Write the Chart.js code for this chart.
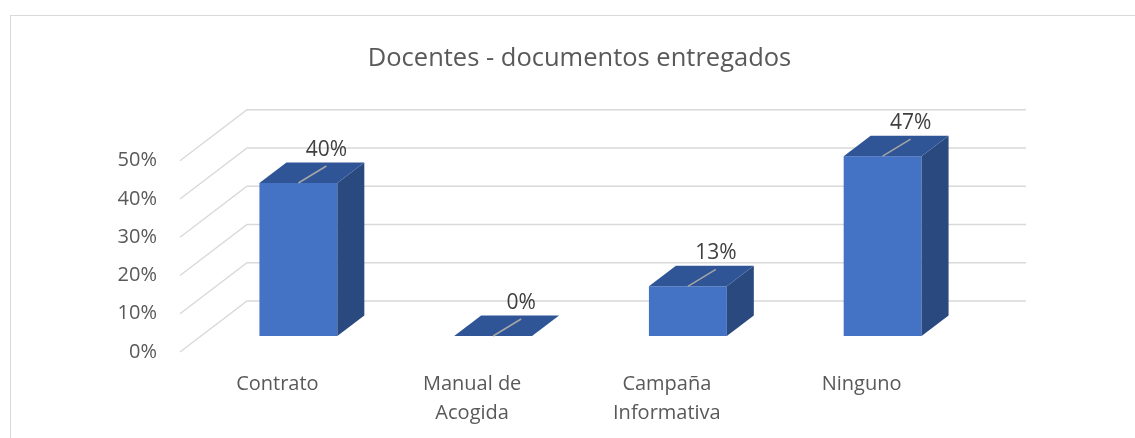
<!DOCTYPE html>
<html>
<head>
<meta charset="utf-8">
<script src="https://cdn.jsdelivr.net/npm/chart.js@4/dist/chart.umd.min.js"></script>
<style>
  html, body { margin: 0; padding: 0; background: #fff; }
</style>
</head>
<body>
<canvas id="chart" width="1135" height="438"></canvas>
<script>
var categorias = [["Contrato"], ["Manual de", "Acogida"], ["Campaña", "Informativa"], ["Ninguno"]];
var porcentajes = [40, 0, 13, 47];
var ticksY = [0, 10, 20, 30, 40, 50];

// 3d look (excel style): wall depth, bar offset from front plane, bar depth
var wall = {dx: 67, dy: -51};
var barFront = {dx: 21, dy: -16};
var barDepth = {dx: 27, dy: -20.5};

var caja3d = {
    id: 'caja3d',
    beforeDraw: function(chart) {
        var ctx = chart.ctx;
        var area = chart.chartArea;
        var y = chart.scales.y;
        ctx.save();
        ctx.strokeStyle = '#D9D9D9';
        ctx.lineWidth = 1;
        ctx.strokeRect(10.5, 15.5, 1300, 600);

        ctx.lineWidth = 1.4;
        ticksY.forEach(function(v) {
            var py = y.getPixelForValue(v);
            ctx.beginPath();
            ctx.moveTo(area.left, py);
            ctx.lineTo(area.left + wall.dx, py + wall.dy);
            ctx.lineTo(area.right + wall.dx, py + wall.dy);
            ctx.stroke();
        });
        ctx.restore();
    },
    afterDatasetsDraw: function(chart) {
        var ctx = chart.ctx;
        var meta = chart.getDatasetMeta(0);
        ctx.save();
        meta.data.forEach(function(bar, i) {
            var w = bar.width;
            var l = bar.x - w / 2 + barFront.dx;
            var r = bar.x + w / 2 + barFront.dx;
            var t = bar.y + barFront.dy;
            var b = bar.base + barFront.dy;

            // front
            ctx.fillStyle = '#4472C4';
            ctx.fillRect(l, t, r - l, b - t);
            // right side
            ctx.fillStyle = '#2A4A7F';
            ctx.beginPath();
            ctx.moveTo(r, t);
            ctx.lineTo(r + barDepth.dx, t + barDepth.dy);
            ctx.lineTo(r + barDepth.dx, b + barDepth.dy);
            ctx.lineTo(r, b);
            ctx.closePath();
            ctx.fill();
            // top
            ctx.fillStyle = '#2F5597';
            ctx.beginPath();
            ctx.moveTo(l, t);
            ctx.lineTo(r, t);
            ctx.lineTo(r + barDepth.dx, t + barDepth.dy);
            ctx.lineTo(l + barDepth.dx, t + barDepth.dy);
            ctx.closePath();
            ctx.fill();

            // leader line + label
            var cx = (l + r) / 2;
            ctx.strokeStyle = '#A6A6A6';
            ctx.lineWidth = 1.5;
            ctx.beginPath();
            ctx.moveTo(cx, t);
            ctx.lineTo(cx + 28, t - 17);
            ctx.stroke();

            ctx.fillStyle = '#404040';
            ctx.font = "21px 'Open Sans'";
            ctx.textAlign = 'center';
            ctx.textBaseline = 'middle';
            ctx.fillText(porcentajes[i] + '%', cx + 28, t - 33);
        });
        ctx.restore();
    }
};

Chart.defaults.font.family = "'Open Sans'";
Chart.defaults.color = '#595959';

var ctx = document.getElementById("chart");
var chart = new Chart(ctx, {
    type: 'bar',
    data: {
        labels: categorias,
        datasets: [{
            label: 'Docentes',
            data: porcentajes,
            backgroundColor: 'rgba(0,0,0,0)',
            barPercentage: 0.4,
            categoryPercentage: 1
        }]
    },
    options: {
        responsive: false,
        animation: false,
        layout: { padding: { left: 24, right: 0, top: 0, bottom: 0 } },
        plugins: {
            legend: { display: false },
            tooltip: { enabled: false },
            title: {
                display: true,
                text: 'Docentes - documentos entregados',
                color: '#595959',
                font: { size: 25.5, weight: 'normal' },
                padding: { top: 43.6, bottom: 86.55 }
            }
        },
        scales: {
            x: {
                grid: { display: false },
                border: { display: false },
                ticks: { font: { size: 20, lineHeight: 1.45 }, padding: 9.5, color: '#595959' },
                afterFit: function(s) { s.height = 86; }
            },
            y: {
                min: 0,
                max: 50,
                grid: { display: false },
                border: { display: false },
                ticks: {
                    stepSize: 10,
                    padding: 15,
                    font: { size: 20 },
                    color: '#595959',
                    callback: function(v) { return v + '%'; }
                },
                afterFit: function(s) { s.width = 156; }
            },
            // empty axis on the right, only keeps room for the back wall
            y2: {
                position: 'right',
                min: 0,
                max: 50,
                grid: { display: false },
                border: { display: false },
                ticks: { display: false },
                afterFit: function(s) { s.width = 176; }
            }
        }
    },
    plugins: [caja3d]
});
</script>
</body>
</html>
